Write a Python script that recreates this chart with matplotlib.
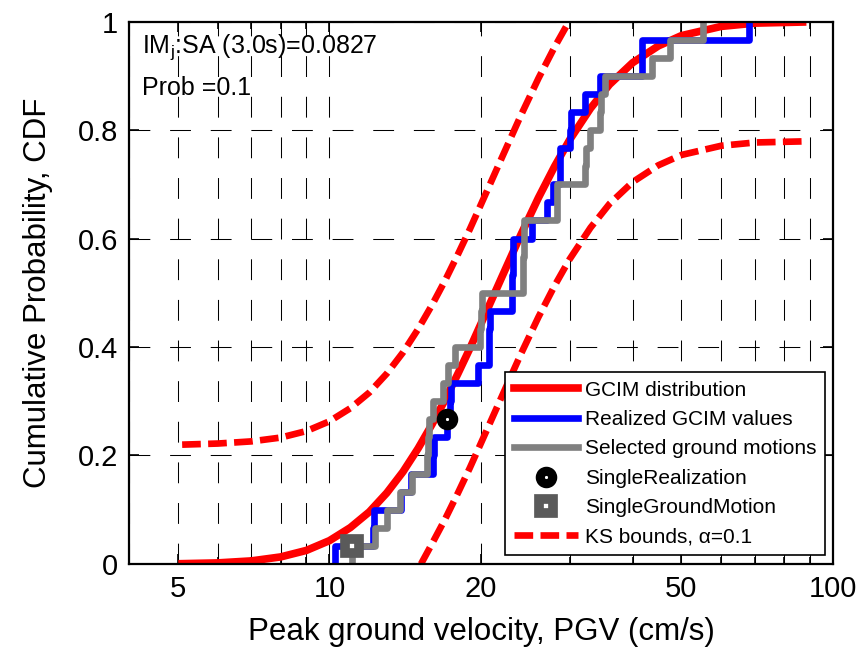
import numpy as np
import matplotlib
matplotlib.use('Agg')
import matplotlib.pyplot as plt
from matplotlib.ticker import FixedLocator, LogLocator, NullFormatter

plt.rcParams['font.family'] = ['Liberation Sans', 'DejaVu Sans']
plt.rcParams['mathtext.fontset'] = 'custom'
plt.rcParams['mathtext.rm'] = 'Liberation Sans'
plt.rcParams['mathtext.it'] = 'Liberation Sans:italic'

# GCIM distribution (red curve)
gcim_x = [5.1, 6, 7, 8, 9, 10, 11, 12, 13, 14, 15, 16, 17, 18, 19, 20, 22, 24,
          26, 28, 30, 33, 36, 40, 45, 50, 60, 70, 87]
gcim_cdf = [0.0006, 0.002, 0.0057, 0.013, 0.025, 0.043, 0.067, 0.096, 0.131,
            0.170, 0.213, 0.258, 0.304, 0.351, 0.397, 0.443, 0.529, 0.607,
            0.675, 0.733, 0.782, 0.840, 0.884, 0.924, 0.955, 0.974, 0.991,
            0.997, 0.999]

# KS bounds
ks_up_x = [5.1, 6, 7, 8, 9, 10, 11, 12, 13, 14, 15, 16, 17, 18, 19, 20, 22,
           24, 26, 28, 29.9]
ks_up = [0.220, 0.222, 0.226, 0.233, 0.245, 0.263, 0.287, 0.316, 0.351, 0.390,
         0.433, 0.478, 0.524, 0.571, 0.617, 0.663, 0.749, 0.827, 0.895, 0.953,
         1.0]
ks_lo_x = [15.2, 16, 17, 18, 19, 20, 22, 24, 26, 28, 30, 33, 36, 40, 45, 50,
           60, 70, 87]
ks_lo = [0.0, 0.038, 0.084, 0.131, 0.177, 0.223, 0.309, 0.387, 0.455, 0.513,
         0.562, 0.620, 0.664, 0.704, 0.735, 0.754, 0.771, 0.777, 0.779]

# realized GCIM values and selected ground motions (PGV, cm/s)
realized = [10.25, 12.2, 12.25, 13.87, 14.5, 16.05, 16.1, 17.1, 17.35, 17.4,
            19.76, 20.7, 20.75, 20.8, 23.0, 23.05, 23.1, 23.15, 25.2, 27.0,
            27.8, 28.7, 28.75, 30.1, 30.15, 32.2, 34.5, 41.8, 41.85, 68.0]
selected = [11.1, 12.3, 13.0, 13.8, 14.6, 15.65, 15.7, 15.75, 16.06, 16.84,
            17.23, 17.77, 19.9, 20.0, 20.1, 24.2, 24.25, 24.3, 24.35, 28.3,
            28.35, 32.2, 32.25, 32.97, 34.5, 34.55, 35.3, 43.7, 47.5, 55.3]

single_real_x, single_real_p = 17.1, 0.267
single_gm_x, single_gm_p = 11.1, 0.033

xticks = [5, 10, 20, 50, 100]
xticklabels = ['5', '10', '20', '50', '100']
yticks = [0, 0.2, 0.4, 0.6, 0.8, 1]
yticklabels = ['0', '0.2', '0.4', '0.6', '0.8', '1']


def ecdf_xy(vals):
    v = np.sort(vals)
    n = len(v)
    x = np.concatenate([[v[0]], v])
    y = np.concatenate([[0.0], np.arange(1, n + 1) / n])
    return x, y


fig = plt.figure(figsize=(8.67, 6.52), dpi=100)
ax = fig.add_axes([0.1488, 0.135, 0.812, 0.832])

ax.plot(gcim_x, gcim_cdf, color='red', lw=5.5, label='GCIM distribution')
rx, ry = ecdf_xy(realized)
ax.step(rx, ry, where='post', color='blue', lw=4.8, label='Realized GCIM values')
sx, sy = ecdf_xy(selected)
ax.step(sx, sy, where='post', color='#808080', lw=4.8,
        label='Selected ground motions')
ax.plot(single_real_x, single_real_p, ls='none', marker='o', ms=9, mew=6.5,
        mfc='white', mec='black', label='SingleRealization', zorder=5)
ax.plot(single_gm_x, single_gm_p, ls='none', marker='s', ms=9.5, mew=7,
        mfc='white', mec='#5a5a5a', label='SingleGroundMotion', zorder=5)
ax.plot(ks_up_x, ks_up, color='red', lw=4.8, ls=(0, (2.8, 1.1)),
        label='KS bounds, α=0.1')
ax.plot(ks_lo_x, ks_lo, color='red', lw=4.8, ls=(0, (2.8, 1.1)))

ax.set_xscale('log')
ax.set_xlim(4, 100)
ax.set_ylim(0, 1)
ax.xaxis.set_major_locator(FixedLocator(xticks))
ax.set_xticklabels(xticklabels)
ax.xaxis.set_minor_locator(LogLocator(base=10, subs=range(2, 10)))
ax.xaxis.set_minor_formatter(NullFormatter())
ax.set_yticks(yticks)
ax.set_yticklabels(yticklabels)

ax.grid(True, which='both', axis='x', color='black', lw=0.75,
        ls=(0, (20, 19)))
ax.grid(True, which='major', axis='y', color='black', lw=0.75,
        ls=(0, (20, 19)))
ax.tick_params(which='both', direction='in', top=True, right=True,
               labelsize=21, width=1.2)
ax.tick_params(which='major', length=7, pad=8)
ax.tick_params(which='minor', length=5)
for s in ax.spines.values():
    s.set_linewidth(1.6)

ax.set_xlabel('Peak ground velocity, PGV (cm/s)', fontsize=22.5, labelpad=10)
ax.set_ylabel('Cumulative Probability, CDF', fontsize=22.5, labelpad=18)

ax.text(0.018, 0.942, r'IM$_{\mathrm{j}}$:SA (3.0s)=0.0827',
        transform=ax.transAxes, fontsize=18, va='baseline')
ax.text(0.018, 0.8645, 'Prob =0.1', transform=ax.transAxes, fontsize=18,
        va='baseline')

leg = ax.legend(loc='lower right', bbox_to_anchor=(0.989, 0.0166),
                borderaxespad=0, fontsize=15, handlelength=3.1,
                handletextpad=0.35, labelspacing=0.5, numpoints=1,
                fancybox=False, framealpha=1, edgecolor='black')
leg.get_frame().set_linewidth(1.2)
leg.set_zorder(10)

fig.savefig('out.png', dpi=100)
